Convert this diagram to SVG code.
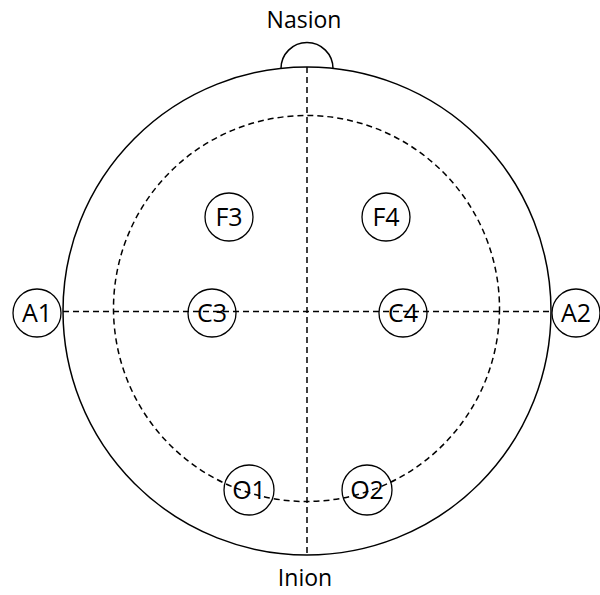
<svg xmlns="http://www.w3.org/2000/svg" width="600" height="595" viewBox="0 0 600 595">
<style>
.ln{fill:none;stroke:#000;stroke-width:1.5}
.ds{fill:none;stroke:#000;stroke-width:1.5;stroke-dasharray:6 4}
.el{fill:none;stroke:#000;stroke-width:1.3}
.lb{font-family:"Open Sans","Liberation Sans",sans-serif;font-size:25px;fill:#000;text-anchor:middle}
.tl{font-family:"Open Sans","Liberation Sans",sans-serif;font-size:23px;fill:#000;text-anchor:middle}
</style>
<rect width="600" height="595" fill="#fff"/>
<g id="head">
<circle class="ln" cx="307" cy="311" r="244"/>
<path class="ln" d="M281 68.5 A26 26 0 0 1 333 68.5"/>
</g>
<g id="connectors">
<circle class="ds" cx="306.5" cy="308.5" r="193"/>
<line class="ds" x1="307" y1="67" x2="307" y2="555"/>
<line class="ds" x1="63" y1="311.5" x2="551" y2="311.5"/>
</g>
<g id="nasion"><text class="tl" x="304" y="28">Nasion</text></g>
<g id="inion"><text class="tl" x="305" y="586">Inion</text></g>
<g id="F3"><circle class="el" cx="229" cy="217" r="24"/><text class="lb" x="229" y="226">F3</text></g>
<g id="F4"><circle class="el" cx="386" cy="217" r="24"/><text class="lb" x="386" y="226">F4</text></g>
<g id="C3"><circle class="el" cx="212" cy="313" r="24"/><text class="lb" x="212" y="322">C3</text></g>
<g id="C4"><circle class="el" cx="403" cy="313" r="24"/><text class="lb" x="403" y="322">C4</text></g>
<g id="O1"><circle class="el" cx="249" cy="490" r="25"/><text class="lb" x="249" y="499">O1</text></g>
<g id="O2"><circle class="el" cx="367" cy="490" r="25"/><text class="lb" x="367" y="499">O2</text></g>
<g id="A1"><circle class="el" cx="37" cy="313" r="24"/><text class="lb" x="37" y="322">A1</text></g>
<g id="A2"><circle class="el" cx="576" cy="313" r="24"/><text class="lb" x="576" y="322">A2</text></g>
</svg>
